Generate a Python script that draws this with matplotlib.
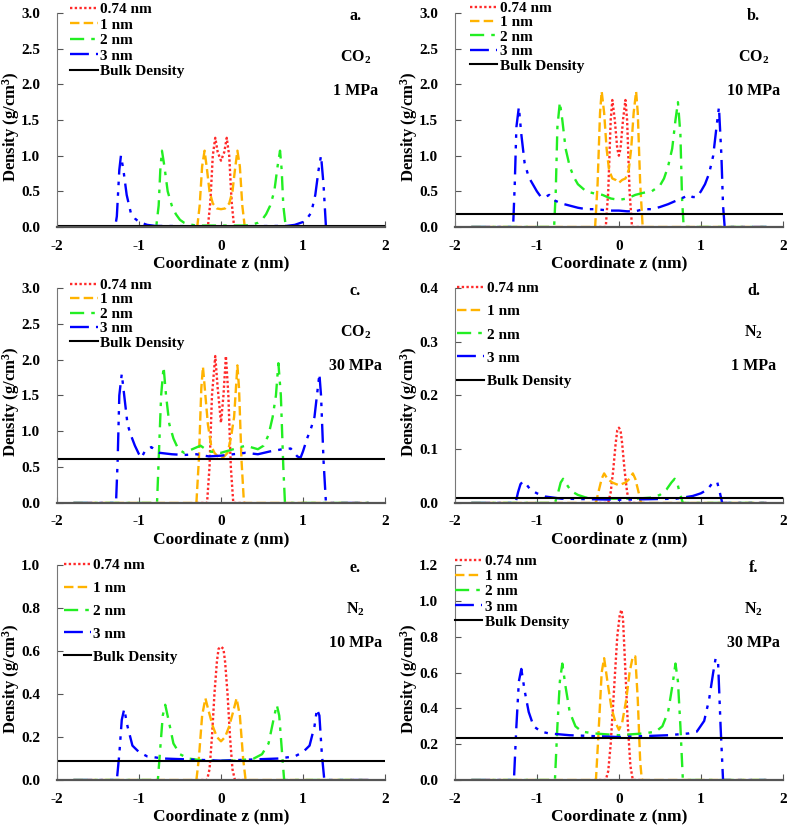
import matplotlib
matplotlib.use("Agg")
import matplotlib.pyplot as plt

plt.rcParams['font.family'] = ['Liberation Serif', 'DejaVu Serif']
plt.rcParams['font.weight'] = 'bold'
plt.rcParams['axes.unicode_minus'] = False
plt.rcParams['mathtext.fontset'] = 'custom'
plt.rcParams['mathtext.rm'] = 'Liberation Serif:bold'
plt.rcParams['mathtext.bf'] = 'Liberation Serif:bold'
plt.rcParams['mathtext.it'] = 'Liberation Serif:bold:italic'

# ---- data: z (nm) and density (g/cm3) ----
# a. CO2, 1 MPa
Z_A_074 = [-0.3, -0.16, -0.13, -0.1, -0.07, -0.04, 0.0, 0.04, 0.07, 0.1, 0.13, 0.16, 0.3]
R_A_074 = [0, 0, 0.35, 1.0, 1.25, 1.05, 0.93, 1.05, 1.25, 1.0, 0.35, 0, 0]
Z_A_1 = [-1.8, -0.29, -0.26, -0.23, -0.2, -0.17, -0.14, -0.1, -0.05, 0, 0.05, 0.1, 0.14, 0.17, 0.2, 0.23, 0.26, 0.29, 1.8]
R_A_1 = [0, 0, 0.3, 0.85, 1.07, 0.8, 0.5, 0.33, 0.26, 0.25, 0.26, 0.33, 0.5, 0.8, 1.07, 0.85, 0.3, 0, 0]
Z_A_2 = [-1.8, -0.79, -0.76, -0.74, -0.72, -0.69, -0.65, -0.6, -0.55, -0.5, -0.45, -0.4, -0.3, 0,
         0.3, 0.4, 0.45, 0.5, 0.55, 0.6, 0.65, 0.69, 0.72, 0.74, 0.76, 0.79, 1.8]
R_A_2 = [0, 0, 0.3, 0.8, 1.07, 0.85, 0.5, 0.3, 0.18, 0.1, 0.06, 0.04, 0.02, 0.02,
         0.02, 0.04, 0.06, 0.1, 0.18, 0.3, 0.5, 0.85, 1.07, 0.8, 0.3, 0, 0]
Z_A_3 = [-1.8, -1.29, -1.27, -1.24, -1.22, -1.19, -1.15, -1.1, -1.05, -1.0, -0.9, -0.8, 0,
         0.8, 0.9, 1.0, 1.05, 1.1, 1.15, 1.19, 1.22, 1.25, 1.28, 1.8]
R_A_3 = [0, 0, 0.15, 0.8, 1.0, 0.8, 0.45, 0.2, 0.12, 0.07, 0.03, 0.015, 0.01,
         0.015, 0.03, 0.07, 0.12, 0.2, 0.45, 0.8, 1.0, 0.6, 0, 0]
BULK_A = 0.02

# b. CO2, 10 MPa
Z_B_074 = [-0.3, -0.16, -0.13, -0.1, -0.08, -0.05, -0.02, 0, 0.02, 0.05, 0.08, 0.1, 0.13, 0.16, 0.3]
R_B_074 = [0, 0, 0.5, 1.5, 1.78, 1.5, 1.1, 1.0, 1.1, 1.5, 1.78, 1.5, 0.5, 0, 0]
Z_B_1 = [-1.8, -0.29, -0.26, -0.23, -0.21, -0.18, -0.15, -0.12, -0.08, -0.04, 0,
         0.04, 0.08, 0.12, 0.15, 0.18, 0.21, 0.23, 0.26, 0.29, 1.8]
R_B_1 = [0, 0, 0.6, 1.6, 1.9, 1.6, 1.1, 0.8, 0.68, 0.66, 0.62,
         0.66, 0.68, 0.8, 1.1, 1.6, 1.9, 1.6, 0.6, 0, 0]
Z_B_2 = [-1.8, -0.79, -0.77, -0.75, -0.72, -0.69, -0.65, -0.6, -0.55, -0.5, -0.4, -0.3, -0.2, -0.1, 0,
         0.1, 0.2, 0.3, 0.4, 0.5, 0.55, 0.6, 0.65, 0.69, 0.72, 0.75, 0.77, 0.79, 1.8]
R_B_2 = [0, 0, 0.5, 1.4, 1.75, 1.5, 1.1, 0.85, 0.7, 0.6, 0.5, 0.47, 0.45, 0.4, 0.38,
         0.4, 0.45, 0.48, 0.5, 0.58, 0.68, 0.85, 1.1, 1.5, 1.75, 1.3, 0.4, 0, 0]
Z_B_3 = [-1.8, -1.29, -1.27, -1.25, -1.22, -1.19, -1.15, -1.1, -1.05, -1.0, -0.95, -0.9, -0.85, -0.8,
         -0.7, -0.6, -0.5, -0.4, -0.3, -0.2, -0.1, 0, 0.1, 0.2, 0.3, 0.4, 0.5, 0.6, 0.7, 0.8,
         0.85, 0.9, 0.95, 1.0, 1.05, 1.1, 1.15, 1.19, 1.22, 1.25, 1.27, 1.29, 1.8]
R_B_3 = [0, 0, 0.6, 1.4, 1.68, 1.3, 0.9, 0.7, 0.6, 0.5, 0.42, 0.42, 0.45, 0.38,
         0.33, 0.3, 0.27, 0.25, 0.25, 0.24, 0.23, 0.23, 0.22, 0.22, 0.25, 0.25, 0.28, 0.32, 0.37, 0.42,
         0.45, 0.42, 0.42, 0.5, 0.6, 0.75, 1.0, 1.4, 1.68, 1.0, 0.3, 0, 0]
BULK_B = 0.18

# c. CO2, 30 MPa
Z_C_074 = [-0.3, -0.17, -0.14, -0.11, -0.07, -0.04, 0, 0.03, 0.06, 0.09, 0.12, 0.15, 0.3]
R_C_074 = [0, 0, 0.5, 1.5, 2.05, 1.6, 1.12, 1.5, 2.05, 1.5, 0.5, 0, 0]
Z_C_1 = [-1.8, -0.3, -0.27, -0.24, -0.22, -0.19, -0.16, -0.12, -0.08, -0.04, 0,
         0.04, 0.08, 0.12, 0.16, 0.2, 0.22, 0.25, 0.28, 1.8]
R_C_1 = [0, 0, 0.6, 1.6, 1.9, 1.5, 1.1, 0.8, 0.7, 0.65, 0.62,
         0.65, 0.7, 0.9, 1.2, 1.92, 1.6, 0.6, 0, 0]
Z_C_2 = [-1.8, -0.78, -0.76, -0.73, -0.7, -0.67, -0.63, -0.58, -0.52, -0.45, -0.35, -0.25, -0.15, 0,
         0.15, 0.3, 0.45, 0.52, 0.58, 0.63, 0.67, 0.7, 0.73, 0.76, 0.78, 1.8]
R_C_2 = [0, 0, 0.6, 1.5, 1.9, 1.5, 1.1, 0.9, 0.75, 0.7, 0.75, 0.8, 0.72, 0.7,
         0.75, 0.8, 0.75, 0.8, 0.95, 1.2, 1.5, 1.95, 1.5, 0.5, 0, 0]
Z_C_3 = [-1.8, -1.28, -1.26, -1.24, -1.21, -1.18, -1.14, -1.1, -1.05, -1.0, -0.97, -0.93, -0.85,
         -0.75, -0.6, -0.45, -0.3, -0.15, 0, 0.15, 0.3, 0.45, 0.6, 0.75, 0.85, 0.93, 0.97, 1.0,
         1.05, 1.1, 1.14, 1.18, 1.2, 1.22, 1.25, 1.28, 1.8]
R_C_3 = [0, 0, 0.6, 1.5, 1.8, 1.5, 1.1, 0.95, 0.8, 0.68, 0.63, 0.72, 0.78,
         0.7, 0.68, 0.67, 0.68, 0.65, 0.66, 0.68, 0.7, 0.68, 0.72, 0.75, 0.76, 0.65, 0.63, 0.72,
         0.9, 1.05, 1.2, 1.6, 1.8, 1.5, 0.6, 0, 0]
BULK_C = 0.62

# d. N2, 1 MPa
Z_D_074 = [-0.3, -0.13, -0.1, -0.07, -0.04, -0.02, 0, 0.02, 0.04, 0.07, 0.1, 0.13, 0.3]
R_D_074 = [0, 0, 0.02, 0.06, 0.11, 0.135, 0.14, 0.135, 0.11, 0.06, 0.02, 0, 0]
Z_D_1 = [-1.8, -0.28, -0.25, -0.21, -0.18, -0.14, -0.08, 0, 0.08, 0.13, 0.17, 0.2, 0.24, 0.27, 1.8]
R_D_1 = [0, 0, 0.02, 0.045, 0.055, 0.045, 0.038, 0.033, 0.038, 0.045, 0.055, 0.045, 0.02, 0, 0]
Z_D_2 = [-1.8, -0.78, -0.74, -0.71, -0.68, -0.64, -0.58, -0.5, -0.4, -0.2, 0,
         0.2, 0.4, 0.5, 0.58, 0.64, 0.68, 0.71, 0.74, 0.78, 1.8]
R_D_2 = [0, 0, 0.02, 0.038, 0.045, 0.035, 0.022, 0.015, 0.01, 0.008, 0.008,
         0.008, 0.01, 0.015, 0.025, 0.038, 0.045, 0.038, 0.02, 0, 0]
Z_D_3 = [-1.8, -1.26, -1.23, -1.2, -1.17, -1.13, -1.08, -1.0, -0.9, -0.7, 0,
         0.7, 0.9, 1.0, 1.08, 1.13, 1.17, 1.2, 1.23, 1.26, 1.8]
R_D_3 = [0, 0, 0.02, 0.035, 0.04, 0.035, 0.025, 0.018, 0.012, 0.008, 0.006,
         0.008, 0.013, 0.018, 0.025, 0.035, 0.04, 0.038, 0.02, 0, 0]
BULK_D = 0.009

# e. N2, 10 MPa
Z_E_074 = [-0.3, -0.17, -0.14, -0.11, -0.08, -0.05, -0.03, 0, 0.03, 0.05, 0.08, 0.11, 0.14, 0.17, 0.3]
R_E_074 = [0, 0, 0.05, 0.2, 0.4, 0.55, 0.61, 0.62, 0.61, 0.55, 0.4, 0.2, 0.05, 0, 0]
Z_E_1 = [-1.8, -0.3, -0.27, -0.23, -0.19, -0.15, -0.1, -0.05, 0, 0.05, 0.1, 0.15, 0.19, 0.23, 0.27, 0.3, 1.8]
R_E_1 = [0, 0, 0.1, 0.3, 0.38, 0.32, 0.25, 0.2, 0.18, 0.2, 0.25, 0.32, 0.38, 0.3, 0.1, 0, 0]
Z_E_2 = [-1.8, -0.77, -0.74, -0.71, -0.68, -0.64, -0.58, -0.5, -0.4, -0.2, 0,
         0.2, 0.4, 0.5, 0.58, 0.64, 0.68, 0.71, 0.74, 0.77, 1.8]
R_E_2 = [0, 0, 0.15, 0.3, 0.35, 0.28, 0.17, 0.12, 0.1, 0.09, 0.09,
         0.09, 0.1, 0.12, 0.17, 0.28, 0.35, 0.3, 0.15, 0, 0]
Z_E_3 = [-1.8, -1.27, -1.24, -1.21, -1.18, -1.14, -1.08, -1.0, -0.9, -0.7, 0,
         0.7, 0.9, 1.0, 1.08, 1.14, 1.17, 1.2, 1.23, 1.26, 1.8]
R_E_3 = [0, 0, 0.12, 0.28, 0.33, 0.25, 0.16, 0.13, 0.11, 0.1, 0.09,
         0.1, 0.11, 0.13, 0.16, 0.25, 0.33, 0.3, 0.12, 0, 0]
BULK_E = 0.09

# f. N2, 30 MPa
Z_F_074 = [-0.3, -0.16, -0.13, -0.1, -0.06, -0.02, 0.01, 0.03, 0.05, 0.08, 0.11, 0.14, 0.17, 0.3]
R_F_074 = [0, 0, 0.05, 0.2, 0.5, 0.8, 0.92, 0.95, 0.9, 0.6, 0.3, 0.08, 0, 0]
Z_F_1 = [-1.8, -0.28, -0.25, -0.21, -0.18, -0.14, -0.09, -0.04, 0, 0.04, 0.09, 0.13, 0.17, 0.2, 0.23, 0.26, 0.28, 1.8]
R_F_1 = [0, 0, 0.25, 0.6, 0.68, 0.55, 0.4, 0.32, 0.28, 0.32, 0.45, 0.6, 0.69, 0.69, 0.45, 0.1, 0, 0]
Z_F_2 = [-1.8, -0.78, -0.75, -0.72, -0.69, -0.65, -0.6, -0.53, -0.45, -0.3, 0,
         0.3, 0.45, 0.53, 0.6, 0.65, 0.69, 0.72, 0.75, 0.78, 1.8]
R_F_2 = [0, 0, 0.3, 0.55, 0.65, 0.52, 0.38, 0.3, 0.27, 0.26, 0.25,
         0.26, 0.27, 0.3, 0.38, 0.52, 0.65, 0.55, 0.3, 0, 0]
Z_F_3 = [-1.8, -1.28, -1.25, -1.22, -1.19, -1.15, -1.1, -1.04, -0.95, -0.85, -0.6, 0,
         0.6, 0.85, 0.95, 1.04, 1.1, 1.15, 1.18, 1.21, 1.24, 1.27, 1.8]
R_F_3 = [0, 0, 0.3, 0.55, 0.62, 0.5, 0.38, 0.3, 0.27, 0.26, 0.25, 0.24,
         0.25, 0.26, 0.27, 0.33, 0.45, 0.6, 0.68, 0.65, 0.3, 0, 0]
BULK_F = 0.235

LABELS = ['0.74 nm', '1 nm', '2 nm', '3 nm']
PANEL_TAGS = ['a.', 'b.', 'c.', 'd.', 'e.', 'f.']
GASES = ['CO$_2$', 'CO$_2$', 'CO$_2$', 'N$_2$', 'N$_2$', 'N$_2$']
PRESSURES = ['1 MPa', '10 MPa', '30 MPa', '1 MPa', '10 MPa', '30 MPa']
YMAX = [3.0, 3.0, 3.0, 0.4, 1.0, 1.2]
YSTEP = [0.5, 0.5, 0.5, 0.1, 0.2, 0.2]

# styles
colors = ['#ff2a2a', '#ffb300', '#22ee22', '#0000ff']
styles = [(0, (1, 1)), (0, (4, 1.8)), (0, (6, 3, 1.5, 3)), (0, (8, 3, 1.5, 3, 1.5, 3))]

panels = [
    ([Z_A_074, Z_A_1, Z_A_2, Z_A_3], [R_A_074, R_A_1, R_A_2, R_A_3], BULK_A),
    ([Z_B_074, Z_B_1, Z_B_2, Z_B_3], [R_B_074, R_B_1, R_B_2, R_B_3], BULK_B),
    ([Z_C_074, Z_C_1, Z_C_2, Z_C_3], [R_C_074, R_C_1, R_C_2, R_C_3], BULK_C),
    ([Z_D_074, Z_D_1, Z_D_2, Z_D_3], [R_D_074, R_D_1, R_D_2, R_D_3], BULK_D),
    ([Z_E_074, Z_E_1, Z_E_2, Z_E_3], [R_E_074, R_E_1, R_E_2, R_E_3], BULK_E),
    ([Z_F_074, Z_F_1, Z_F_2, Z_F_3], [R_F_074, R_F_1, R_F_2, R_F_3], BULK_F),
]

# axes boxes in figure fractions (left, bottom, width, height)
boxes = [
    (0.0724, 0.7255, 0.4168, 0.2588),
    (0.578, 0.7255, 0.4168, 0.2588),
    (0.0724, 0.3918, 0.4168, 0.26),
    (0.578, 0.3918, 0.4168, 0.26),
    (0.0724, 0.0568, 0.4168, 0.26),
    (0.578, 0.0568, 0.4168, 0.26),
]
leg_anchor = [(0.04, 1.05), (0.046, 1.055), (0.04, 1.045), (0.006, 1.03), (0.02, 1.03), (0.0, 1.05)]
leg_space = [0.12, 0.05, 0.05, 0.62, 0.6, 0.1]

fig = plt.figure(figsize=(7.87, 8.27), dpi=100)

for i, (zs, rs, bulk) in enumerate(panels):
    ax = fig.add_axes(boxes[i])
    for z, r, c, ls, lab in zip(zs, rs, colors, styles, LABELS):
        ax.plot(z, r, color=c, linestyle=ls, lw=1.7, label=lab)
    ax.axhline(bulk, color='black', lw=1.5, label='Bulk Density')

    ax.set_xlim(-2, 2)
    ax.set_ylim(0, YMAX[i])
    ax.set_xticks([-2, -1, 0, 1, 2])
    nt = int(round(YMAX[i] / YSTEP[i]))
    ax.set_yticks([k * YSTEP[i] for k in range(nt + 1)])
    ax.yaxis.set_major_formatter(matplotlib.ticker.FormatStrFormatter('%.1f'))
    ax.tick_params(direction='in', labelsize=11, length=4, width=0.8, colors='#555555',
                   labelcolor='black')
    ax.tick_params(axis='x', pad=9)
    ax.tick_params(axis='y', pad=12)
    for s in ['top', 'right']:
        ax.spines[s].set_visible(False)
    ax.spines['bottom'].set_color('#555555')
    ax.spines['bottom'].set_linewidth(1.6)
    ax.spines['left'].set_color('#777777')
    ax.spines['left'].set_linewidth(0.8)

    ax.set_xlabel('Coordinate z (nm)', fontsize=12.5, fontweight='bold', labelpad=2)
    ax.set_ylabel('Density (g/cm$^3$)', fontsize=12, fontweight='bold')
    ax.yaxis.set_label_coords(-0.106, 0.47)

    ax.legend(loc='upper left', bbox_to_anchor=leg_anchor[i], frameon=False,
              fontsize=11, handlelength=1.8, handletextpad=0.15,
              labelspacing=leg_space[i], borderaxespad=0, borderpad=0)

    ax.text(0.91, 0.985, PANEL_TAGS[i], transform=ax.transAxes, ha='center', va='center',
            fontsize=11.5, fontweight='bold')
    ax.text(0.91, 0.795, GASES[i], transform=ax.transAxes, ha='center', va='center',
            fontsize=11.5, fontweight='bold')
    ax.text(0.91, 0.635, PRESSURES[i], transform=ax.transAxes, ha='center', va='center',
            fontsize=11.5, fontweight='bold')

fig.savefig('out.png', dpi=100)
